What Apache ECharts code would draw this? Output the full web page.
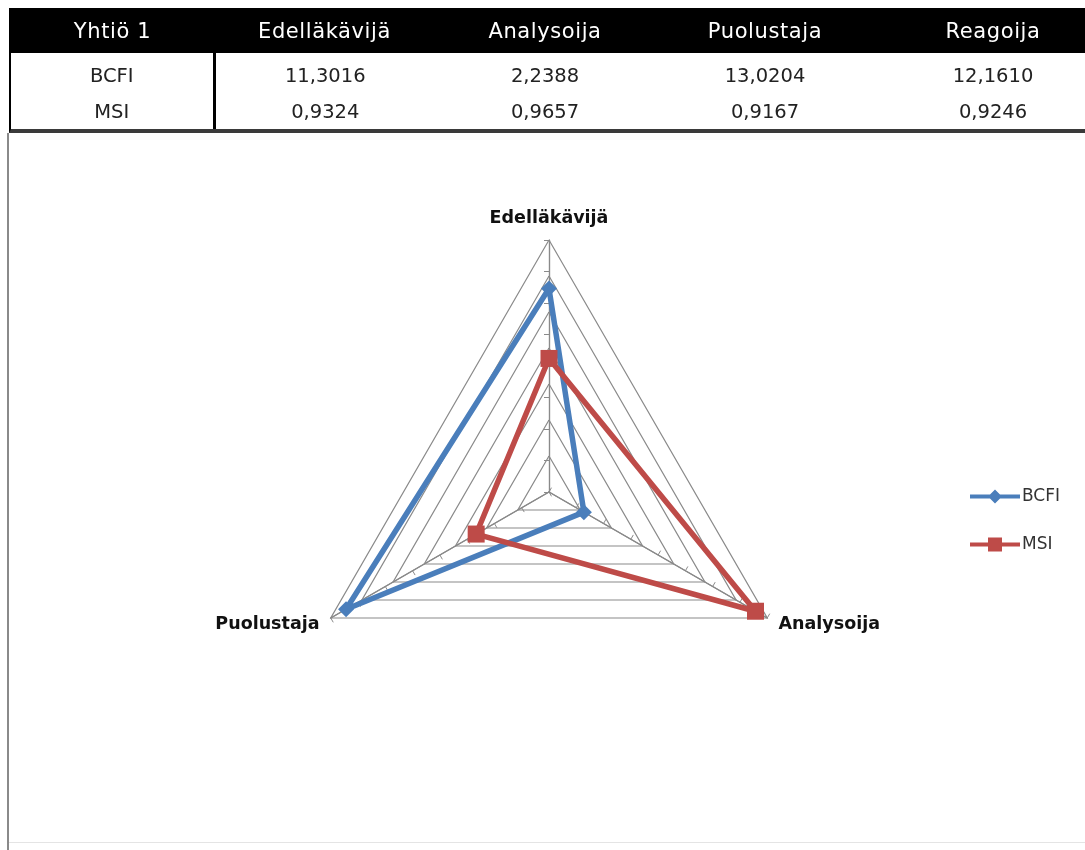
<!DOCTYPE html>
<html>
<head>
<meta charset="utf-8">
<script src="https://cdn.jsdelivr.net/npm/echarts@6/dist/echarts.min.js"></script>
<style>
  html, body { margin: 0; padding: 0; background: #fff; }
  body { width: 1085px; height: 850px; position: relative; overflow: hidden; }
  #chart { position: absolute; left: 0; top: 0; width: 1085px; height: 850px; }
  #table-wrap { position: absolute; left: 9px; top: 8px; width: 1076px; overflow: hidden; z-index: 2; }
  table { border-collapse: collapse; table-layout: fixed; width: 1100px; font-family: "DejaVu Sans", sans-serif; }
  th { background: #000; color: #fff; font-weight: normal; font-size: 21px; letter-spacing: 0.6px; height: 45px; padding: 0; text-align: center; }
  td { color: #222; font-size: 19.5px; height: 36px; padding: 0; text-align: center; background: #fff; }
  td.first { border-right: 3px solid #000; }
  tr.r0 td { padding-top: 4px; height: 37px; }
  tr.r1 td { height: 35px; }
  #table-wrap { border-left: 2px solid #000; border-bottom: 4px solid #3a3a3a; }
  #frame { position: absolute; left: 7px; top: 133px; width: 2px; height: 717px; background: #8a8a8a; }
  #frame-b { position: absolute; left: 9px; top: 842px; width: 1076px; height: 1px; background: #e4e4e4; }
</style>
</head>
<body>
<div id="chart"></div>
<div id="frame"></div>
<div id="frame-b"></div>
<div id="table-wrap"><table id="tbl"></table></div>
<script>
// Table content
const headerLabel = 'Yhtiö 1';
const categories = ['Edelläkävijä', 'Analysoija', 'Puolustaja', 'Reagoija'];
const seriesNames = ['BCFI', 'MSI'];
const bcfiValues = [11.3016, 2.2388, 13.0204, 12.1610];
const msiValues = [0.9324, 0.9657, 0.9167, 0.9246];

// Radar: three categories, drawn clockwise from the top
const radarCategories = ['Edelläkävijä', 'Analysoija', 'Puolustaja'];
// BCFI on the primary value scale, MSI on its own secondary scale
const bcfiScale = { min: 0, max: 14, split: 7 };
const msiScale = { min: 0.89, max: 0.97, split: 8 };

const fmt = v => v.toFixed(4).replace('.', ',');

// ---- table ----
(function buildTable() {
  const tbl = document.getElementById('tbl');
  const colW = [203, 221, 220, 220, 236];
  let html = '<colgroup>' + colW.map(w => '<col style="width:' + w + 'px">').join('') + '</colgroup>';
  html += '<tr><th>' + headerLabel + '</th>' + categories.map(c => '<th>' + c + '</th>').join('') + '</tr>';
  const rows = [bcfiValues, msiValues];
  rows.forEach((vals, i) => {
    html += '<tr class="r' + i + '"><td class="first">' + seriesNames[i] + '</td>' +
      vals.map(v => '<td>' + fmt(v) + '</td>').join('') + '</tr>';
  });
  tbl.innerHTML = html;
})();

// ---- radar chart ----
// ECharts places indicators counter-clockwise, so list them top, bottom-left, bottom-right
const order = [0, 2, 1];
const radarNames = order.map(i => radarCategories[i]);
const valuesFor = arr => radarNames.map(n => arr[categories.indexOf(n)]);

const blue = '#4A7EBB';
const red = '#BE4B48';
const gridGray = '#8a8a8a';

const chart = echarts.init(document.getElementById('chart'), null, { renderer: 'canvas' });

const center = [549, 492];
const radius = 252;

chart.setOption({
  animation: false,
  backgroundColor: 'transparent',
  legend: {
    orient: 'vertical',
    left: 965,
    top: 483,
    itemWidth: 50,
    itemHeight: 14,
    itemGap: 31,
    selectedMode: false,
    itemStyle: { borderWidth: 0 },
    textStyle: { fontFamily: 'DejaVu Sans', fontSize: 17, color: '#333', padding: [0, 0, 0, -3] },
    data: [
      { name: seriesNames[0], icon: 'path://M0,5L50,5L50,9L0,9Z M25,0L32,7L25,14L18,7Z' },
      { name: seriesNames[1], icon: 'path://M0,5L50,5L50,9L0,9Z M18,0L32,0L32,14L18,14Z' }
    ]
  },
  radar: [
    {
      center: center,
      radius: radius,
      shape: 'polygon',
      splitNumber: bcfiScale.split,
      indicator: radarNames.map(n => ({ name: n, min: bcfiScale.min, max: bcfiScale.max })),
      axisName: {
        color: '#111',
        fontFamily: 'DejaVu Sans',
        fontWeight: 'bold',
        fontSize: 17.5
      },
      nameGap: 13,
      splitLine: { lineStyle: { color: gridGray, width: 1.2 } },
      splitArea: { show: false },
      axisLine: { lineStyle: { color: gridGray, width: 1.2 } },
      axisTick: { show: false },
      axisLabel: { show: false }
    },
    {
      center: center,
      radius: radius,
      shape: 'polygon',
      splitNumber: msiScale.split,
      indicator: radarNames.map(n => ({ name: n, min: msiScale.min, max: msiScale.max })),
      axisName: { show: false },
      splitLine: { show: false },
      splitArea: { show: false },
      axisLine: { lineStyle: { color: gridGray, width: 1.2 } },
      axisTick: { show: true, length: 5, lineStyle: { color: gridGray } },
      axisLabel: { show: false }
    }
  ],
  series: [
    {
      type: 'radar',
      name: seriesNames[0],
      radarIndex: 0,
      symbol: 'diamond',
      symbolSize: 16,
      lineStyle: { color: blue, width: 5.5 },
      itemStyle: { color: blue },
      data: [{ name: seriesNames[0], value: valuesFor(bcfiValues) }]
    },
    {
      type: 'radar',
      name: seriesNames[1],
      radarIndex: 1,
      symbol: 'rect',
      symbolSize: 17,
      lineStyle: { color: red, width: 5.5 },
      itemStyle: { color: red },
      data: [{ name: seriesNames[1], value: valuesFor(msiValues) }]
    }
  ]
});
</script>
</body>
</html>
